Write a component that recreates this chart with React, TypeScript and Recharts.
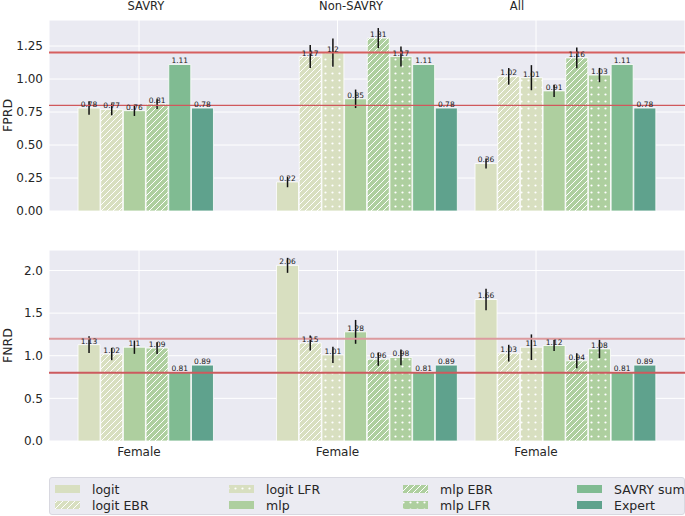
import React from 'react';
import { BarChart, Bar, XAxis, YAxis, CartesianGrid, ReferenceLine, ErrorBar, LabelList, Cell } from 'recharts';

const groups = ['SAVRY', 'Non-SAVRY', 'All'];
const xTickLabels = ['Female', 'Female', 'Female'];
const methods = ['logit', 'logit EBR', 'logit LFR', 'mlp', 'mlp EBR', 'mlp LFR', 'SAVRY sum', 'Expert'];
const savryMethods = ['logit', 'logit EBR', 'mlp', 'mlp EBR', 'SAVRY sum', 'Expert'];
const groupMethods = [savryMethods, methods, methods];

// FPRD (top panel)
const fprdSavry = [0.78, 0.77, 0.76, 0.81, 1.11, 0.78];
const fprdSavryErr = [0.05, 0.045, 0.04, 0.037, 0, 0];
const fprdNonSavry = [0.22, 1.17, 1.2, 0.85, 1.31, 1.17, 1.11, 0.78];
const fprdNonSavryErr = [0.04, 0.087, 0.107, 0.07, 0.076, 0.076, 0, 0];
const fprdAll = [0.36, 1.02, 1.01, 0.91, 1.16, 1.03, 1.11, 0.78];
const fprdAllErr = [0.038, 0.063, 0.095, 0.047, 0.078, 0.054, 0, 0];

// FNRD (bottom panel)
const fnrdSavry = [1.13, 1.02, 1.1, 1.09, 0.81, 0.89];
const fnrdSavryErr = [0.098, 0.072, 0.078, 0.069, 0, 0];
const fnrdNonSavry = [2.06, 1.15, 1.01, 1.28, 0.96, 0.98, 0.81, 0.89];
const fnrdNonSavryErr = [0.088, 0.088, 0.094, 0.14, 0.078, 0.092, 0, 0];
const fnrdAll = [1.66, 1.03, 1.1, 1.12, 0.94, 1.08, 0.81, 0.89];
const fnrdAllErr = [0.127, 0.098, 0.15, 0.065, 0.088, 0.108, 0, 0];

const fprdTicks = [0, 0.25, 0.5, 0.75, 1, 1.25];
const fnrdTicks = [0, 0.5, 1, 1.5, 2];
const thresholds = [0.8, 1.2];

const LOGIT = '#d8dfc0';
const MLP = '#aecf9f';
const styles: Record<string, { color: string; pattern?: string }> = {
  logit: { color: LOGIT },
  'logit EBR': { color: LOGIT, pattern: 'hatch-logit' },
  'logit LFR': { color: LOGIT, pattern: 'dots-logit' },
  mlp: { color: MLP },
  'mlp EBR': { color: MLP, pattern: 'hatch-mlp' },
  'mlp LFR': { color: MLP, pattern: 'dots-mlp' },
  'SAVRY sum': { color: '#80bb92' },
  Expert: { color: '#5fa28d' },
};

const BAR_W = 0.8 / 7;

function buildRows(values: number[][], errs: number[][]) {
  return groups.flatMap((_, gi) =>
    groupMethods[gi].map((m, i) => ({
      x: gi - 0.25 + i * BAR_W,
      value: values[gi][i],
      err: errs[gi][i],
      method: m,
    }))
  );
}

const fprdRows = buildRows([fprdSavry, fprdNonSavry, fprdAll], [fprdSavryErr, fprdNonSavryErr, fprdAllErr]);
const fnrdRows = buildRows([fnrdSavry, fnrdNonSavry, fnrdAll], [fnrdSavryErr, fnrdNonSavryErr, fnrdAllErr]);

const fillOf = (prefix: string, m: string) =>
  styles[m].pattern ? `url(#${prefix}-${styles[m].pattern})` : styles[m].color;

const Patterns = ({ prefix }: { prefix: string }) => (
  <defs>
    {[['logit', LOGIT], ['mlp', MLP]].map(([k, c]) => (
      <React.Fragment key={k}>
        <pattern id={`${prefix}-hatch-${k}`} patternUnits="userSpaceOnUse" width={6} height={6}>
          <rect width={6} height={6} fill={c} />
          <path d="M0,6 L6,0 M-1.5,1.5 L1.5,-1.5 M4.5,7.5 L7.5,4.5" stroke="#fff" strokeWidth={1} />
        </pattern>
        <pattern id={`${prefix}-dots-${k}`} patternUnits="userSpaceOnUse" width={7} height={7}>
          <rect width={7} height={7} fill={c} />
          <circle cx={3.5} cy={3.5} r={1.1} fill="#fff" />
        </pattern>
      </React.Fragment>
    ))}
  </defs>
);

const tickStyle = { fontSize: 12, fill: '#262626' };

const yTitle = (text: string) => ({
  content: (props: any) => {
    const vb = props.viewBox || {};
    const cy = vb.y + vb.height / 2;
    return (
      <text x={12} y={cy} transform={`rotate(-90, 12, ${cy})`} textAnchor="middle" fontSize={12.5} fill="#262626">
        {text}
      </text>
    );
  },
});

const ValueLabel = (props: any) => {
  const { x, y, width, value } = props;
  return (
    <text x={x + width / 2} y={y - 1} textAnchor="middle" fontSize={7.5} fill="#1a1a1a" stroke="none">
      {value}
    </text>
  );
};

const Panel = ({ rows, prefix, ticks, domainMax, fmt, title, showX, height, bottom, lineStyles }: any) => (
  <BarChart width={685} height={height} data={rows} margin={{ top: 20, right: 0, bottom, left: 0 }}>
    <Patterns prefix={prefix} />
    <CartesianGrid fill="#eaeaf2" stroke="#ffffff" strokeWidth={1} />
    <XAxis
      type="number"
      dataKey="x"
      domain={[-0.4534, 2.7506]}
      ticks={[0, 1, 2]}
      allowDataOverflow
      hide={!showX}
      height={29}
      axisLine={false}
      tickLine={false}
      tickSize={4}
      tick={tickStyle}
      tickFormatter={(v: number) => xTickLabels[v]}
    />
    <YAxis
      width={49}
      domain={[0, domainMax]}
      ticks={ticks}
      interval={0}
      allowDataOverflow
      axisLine={false}
      tickLine={false}
      tickSize={4}
      tickMargin={2}
      tick={tickStyle}
      tickFormatter={fmt}
      label={yTitle(title)}
    />
    <Bar dataKey="value" barSize={22} stroke="#ffffff" strokeWidth={0.8} isAnimationActive={false}>
      {rows.map((r: any, i: number) => (
        <Cell key={i} fill={fillOf(prefix, r.method)} />
      ))}
      <ErrorBar dataKey="err" width={0} stroke="#111" strokeWidth={1.5} direction="y" />
      <LabelList dataKey="value" content={ValueLabel} />
    </Bar>
    {thresholds.map((t, i) => (
      <ReferenceLine key={t} y={t} stroke={lineStyles[i].color} strokeWidth={lineStyles[i].width} />
    ))}
  </BarChart>
);

const Legend = () => (
  <div
    style={{
      position: 'absolute',
      left: 49,
      top: 477,
      width: 634,
      height: 36,
      background: '#ebebf2',
      border: '1px solid #d8d8e0',
      borderRadius: 3,
    }}
  >
    <svg width={634} height={36} style={{ position: 'absolute', left: 0, top: 0 }}>
      <Patterns prefix="lg" />
      {methods.map((m, i) => {
        const col = Math.floor(i / 2);
        const row = i % 2;
        const x = 5 + col * 174;
        const y = 11 + row * 16;
        return (
          <g key={m}>
            <rect x={x} y={y - 4} width={25} height={8} fill={fillOf('lg', m)} />
            <text x={x + 37} y={y + 4.5} fontSize={12.5} fill="#262626">
              {m}
            </text>
          </g>
        );
      })}
    </svg>
  </div>
);

const titleXs = [146, 351, 517];

export default function App() {
  return (
    <div
      style={{
        position: 'absolute',
        left: 0,
        top: 0,
        width: 685,
        height: 516,
        background: '#fff',
        fontFamily: '"DejaVu Sans", sans-serif',
        overflow: 'hidden',
      }}
    >
      {groups.map((g, i) => (
        <div
          key={g}
          style={{
            position: 'absolute',
            left: titleXs[i],
            top: -1,
            transform: 'translateX(-50%)',
            fontSize: 11.5,
            color: '#262626',
            whiteSpace: 'nowrap',
          }}
        >
          {g}
        </div>
      ))}
      <div style={{ position: 'absolute', left: 0, top: 0 }}>
        <Panel
          rows={fprdRows}
          prefix="fp"
          ticks={fprdTicks}
          domainMax={1.447}
          fmt={(v: number) => v.toFixed(2)}
          title="FPRD"
          showX={false}
          height={230}
          bottom={19}
          lineStyles={[
            { color: '#d0585c', width: 1.2 },
            { color: '#d65f5f', width: 2 },
          ]}
        />
      </div>
      <div style={{ position: 'absolute', left: 0, top: 230 }}>
        <Panel
          rows={fnrdRows}
          prefix="fn"
          ticks={fnrdTicks}
          domainMax={2.24}
          fmt={(v: number) => v.toFixed(1)}
          title="FNRD"
          showX
          height={240}
          bottom={0}
          lineStyles={[
            { color: '#cc5a5e', width: 2 },
            { color: '#dc9a9e', width: 2 },
          ]}
        />
      </div>
      <Legend />
    </div>
  );
}
